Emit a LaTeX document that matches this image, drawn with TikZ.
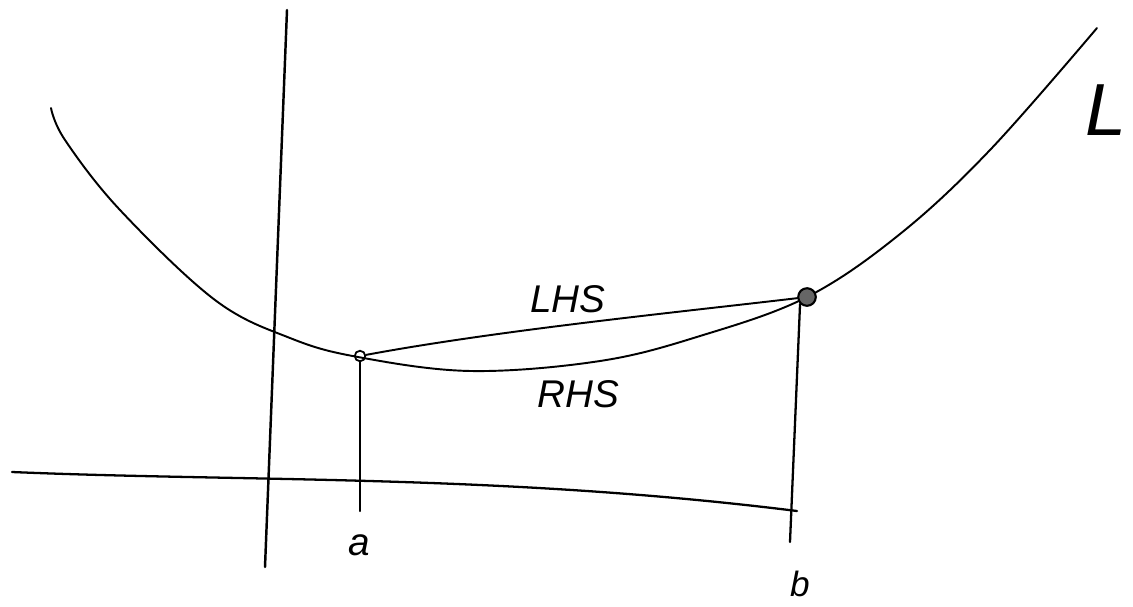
\documentclass[tikz,border=0pt]{standalone}
\usepackage{fontspec}
\setmainfont{Liberation Sans}
\begin{document}
\begin{tikzpicture}[x=0.02cm,y=-0.02cm,
  pen/.style={line width=1.1pt,line cap=round,line join=round,black},
  lbl/.style={font=\fontsize{22}{24}\selectfont\itshape,inner sep=0pt},
  dotmark/.style={circle,draw,line width=1pt,inner sep=0pt,minimum size=6pt},
]
\useasboundingbox (0,0) rectangle (1133,606);
% axes
\coordinate (ytop) at (287,10);
\coordinate (ybot) at (265,567);
\draw[pen,line width=1.4pt] (ytop) -- (ybot);
\coordinate (xl) at (12,472);
\coordinate (xr) at (797,511);
\draw[pen,line width=1.3pt] (xl) .. controls (250,482) and (500,474) .. (xr);
% curve
\draw[pen] plot[smooth,tension=0.6] coordinates {(51,108) (65,140) (120,210) (215,300) (290,338) (358,357) (471,371) (600,361) (700,336) (807,297) (900,234) (990,150) (1097,28)};
% points
\node[dotmark] (pa) at (360,356) {};
\node[circle,draw,line width=1.2pt,fill=black!60,inner sep=0pt,minimum width=10pt,minimum height=8pt] (pb) at (807,297) {};
% chord
\draw[pen] (pa) .. controls (500,330) and (680,312) .. (pb);
% verticals
\coordinate (ta) at (360,511);
\coordinate (tb) at (790,542);
\draw[pen,line width=1.3pt] (pa) -- (ta);
\draw[pen,line width=1.3pt] (pb.south west) -- (tb);
% labels
\node[lbl] (lhs) at (568,299) {LHS};
\node[lbl] (rhs) at (578,394) {RHS};
\node[lbl] (la) at (359,545) {a};
\node[lbl,font=\fontsize{20}{22}\selectfont\itshape] (lb) at (800,584) {b};
\node[font=\fontsize{42}{44}\selectfont\itshape,inner sep=0pt] (L) at (1106,110) {L};
\end{tikzpicture}
\end{document}
